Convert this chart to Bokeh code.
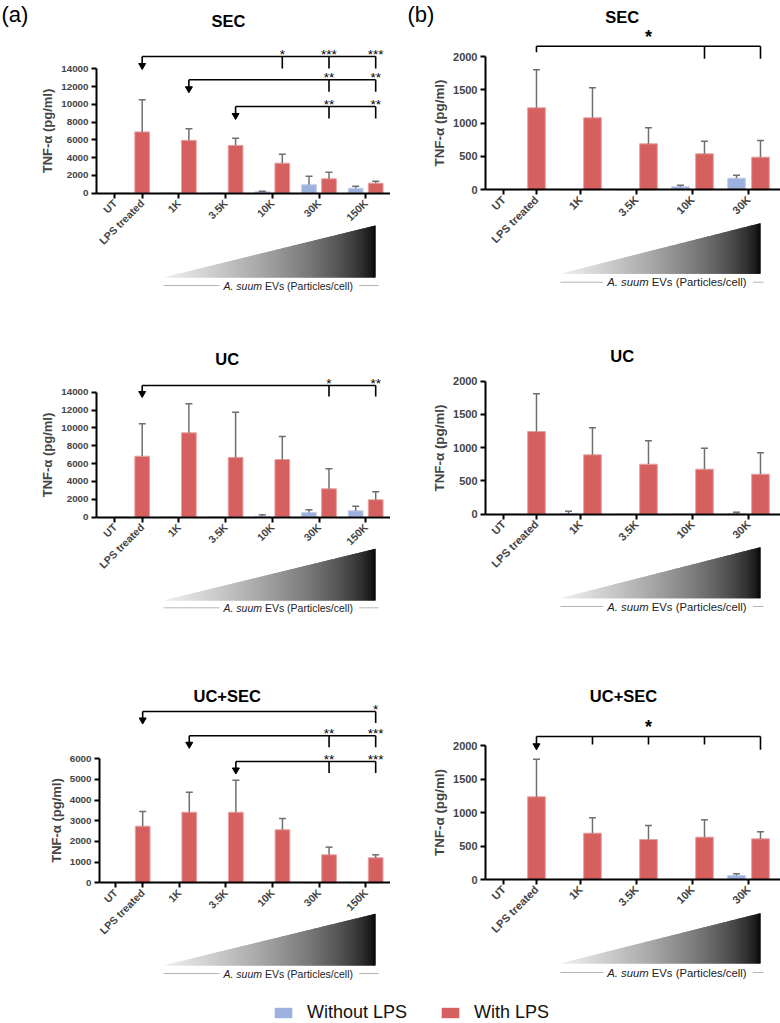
import math
import numpy as np
from bokeh.plotting import figure
from bokeh.layouts import column, row
from bokeh.models import (Range1d, FixedTicker, ColumnDataSource, Whisker, TeeHead,
                          Legend, LegendItem)
from bokeh.core.properties import value
from bokeh.embed import file_html
from bokeh.resources import INLINE

# ------------------------------------------------------------------ data
tick_labels_a = ["UT", "LPS treated", "1K", "3.5K", "10K", "30K", "150K"]
tick_labels_b = ["UT", "LPS treated", "1K", "3.5K", "10K", "30K"]

sec_a_without = [0, 0, 0, 160, 950, 560]
sec_a_without_sd = [0, 0, 0, 70, 960, 230]
sec_a_with = [6900, 5950, 5380, 3380, 1620, 1130]
sec_a_with_sd = [3620, 1300, 810, 1000, 740, 220]

uc_a_without = [0, 0, 0, 100, 530, 720]
uc_a_without_sd = [0, 0, 0, 170, 300, 510]
uc_a_with = [6830, 9450, 6690, 6460, 3180, 1950]
uc_a_with_sd = [3630, 3250, 5070, 2580, 2240, 890]

ucsec_a_without = [0, 0, 0, 0, 0, 0]
ucsec_a_without_sd = [0, 0, 0, 0, 0, 0]
ucsec_a_with = [2740, 3415, 3415, 2565, 1355, 1210]
ucsec_a_with_sd = [710, 970, 1550, 545, 370, 145]

sec_b_without = [0, 0, 0, 45, 174]
sec_b_without_sd = [0, 0, 0, 24, 45]
sec_b_with = [1230, 1080, 690, 540, 490]
sec_b_with_sd = [570, 450, 240, 190, 250]

uc_b_without = [0, 10, 0, 0, 8]
uc_b_without_sd = [0, 35, 0, 0, 22]
uc_b_with = [1243, 893, 752, 677, 601]
uc_b_with_sd = [567, 407, 352, 315, 322]

ucsec_b_without = [0, 0, 0, 0, 60]
ucsec_b_without_sd = [0, 0, 0, 0, 25]
ucsec_b_with = [1234, 691, 597, 632, 607]
ucsec_b_with_sd = [562, 230, 209, 259, 105]

# significance: (reference group, compared groups, stars)
sec_a_sig = [(0, [3, 4, 5], ["*", "***", "***"]),
             (1, [4, 5], ["**", "**"]),
             (2, [4, 5], ["**", "**"])]
uc_a_sig = [(0, [4, 5], ["*", "**"])]
ucsec_a_sig = [(0, [5], ["*"]),
               (1, [4, 5], ["**", "***"]),
               (2, [4, 5], ["**", "***"])]
sec_b_sig = (0, [3, 4], "*")
ucsec_b_sig = (0, [1, 2, 3, 4], "*")

series_names = ["Without LPS", "With LPS"]
y_title = "TNF-α (pg/ml)"
caption_italic = "A. suum"
caption_rest = "EVs (Particles/cell)"

# ------------------------------------------------------------------ style
FONT = "Liberation Sans"
S = 1.0
PW = 390
RED = "#d65f5f"
RED_EDGE = "#e7a0a0"
BLUE = "#9db1de"
BLUE_EDGE = "#c2cfec"
ERR = "#6f6f6f"
OFF = 0.214
BW = 0.315


def txt(p, x, y, text, size, align="center", baseline="middle", style="normal",
        color="black"):
    p.text(x=[x], y=[y], text=[text], text_font=value(FONT),
           text_font_size=f"{size * S:.1f}px", text_align=align,
           text_baseline=baseline, text_font_style=style, text_color=color)


def make_panel(sp, labels, wo, wo_sd, wi, wi_sd, sig=None, sigb=None):
    g0, gs = sp["g0"], sp["gs"]
    kk = sp["ymax"] / (sp["zero"] - sp["top"])

    def fx(px):
        return (px - g0) / gs

    def fy(py):
        return (sp["zero"] - py) * kk

    p = figure(width=PW, height=sp["h"], x_range=Range1d(fx(0), fx(390)),
               y_range=Range1d(fy(sp["h"]), fy(0)), output_backend="svg",
               toolbar_location=None, min_border=0)
    p.outline_line_color = None
    p.xgrid.visible = False
    p.ygrid.visible = False
    p.background_fill_color = "white"
    p.border_fill_color = "white"

    n = len(wi)
    idx = np.arange(n)
    src = ColumnDataSource(dict(xb=idx - OFF, xr=idx + OFF, wo=wo, wi=wi))
    p.vbar(x="xb", top="wo", width=BW, source=src, fill_color=BLUE,
           line_color=BLUE_EDGE, line_width=1)
    p.vbar(x="xr", top="wi", width=BW, source=src, fill_color=RED,
           line_color=RED_EDGE, line_width=1)

    for xs_, v, sd in ((idx - OFF, wo, wo_sd), (idx + OFF, wi, wi_sd)):
        sel = [i for i in range(n) if sd[i] > 0]
        esrc = ColumnDataSource(dict(base=[float(xs_[i]) for i in sel],
                                     lower=[v[i] for i in sel],
                                     upper=[v[i] + sd[i] for i in sel]))
        w = Whisker(source=esrc, base="base", lower="lower", upper="upper",
                    line_color=ERR, line_width=1.5,
                    upper_head=TeeHead(size=7, line_color=ERR, line_width=1.5),
                    lower_head=None, level="glyph")
        p.add_layout(w)

    # axes
    yax = p.yaxis[0]
    yax.fixed_location = fx(sp["axis_x"])
    yax.bounds = (0, sp["ymax"])
    yax.ticker = FixedTicker(ticks=list(range(0, sp["ymax"] + 1, sp["step"])))
    yax.axis_label = y_title
    yax.axis_label_text_font = FONT
    yax.axis_label_text_font_style = "bold"
    yax.axis_label_text_font_size = f"{sp['yt_f'] * S:.1f}px"
    yax.axis_label_standoff = 3
    yax.major_label_text_font = FONT
    yax.major_label_text_font_style = "bold"
    yax.major_label_text_font_size = f"{sp['yl_f'] * S:.1f}px"
    yax.major_label_standoff = 3
    yax.axis_line_width = 2
    yax.major_tick_line_width = 2
    yax.major_tick_out = 5
    yax.major_tick_in = 0
    yax.minor_tick_out = 0
    yax.minor_tick_in = 0

    xticks = [-0.37, OFF] + list(range(1, n))
    xax = p.xaxis[0]
    xax.fixed_location = 0
    xax.bounds = (fx(sp["axis_x"]), fx(390))
    xax.ticker = FixedTicker(ticks=xticks)
    xax.major_label_overrides = {t: lab for t, lab in zip(xticks, labels)}
    xax.major_label_orientation = math.pi / 4
    xax.major_label_text_font = FONT
    xax.major_label_text_font_style = "bold"
    xax.major_label_text_font_size = f"{sp['xl_f'] * S:.1f}px"
    xax.major_label_standoff = 3
    xax.axis_line_width = 2
    xax.major_tick_line_width = 2
    xax.major_tick_out = 5
    xax.major_tick_in = 0
    xax.minor_tick_out = 0
    xax.minor_tick_in = 0

    # titles
    txt(p, fx(sp["title"][0]), fy(sp["title"][1]), sp["name"], 16.5, style="bold")
    if sp.get("letter"):
        txt(p, fx(sp["letter"][0]), fy(sp["letter"][1]), sp["letter"][2], 22,
            align="left")

    # significance brackets (panel a style)
    if sig:
        for j, (ref, comps, stars) in enumerate(sig):
            ly = sp["br"][j]
            drop = sp["drop"]
            xr = ref + OFF
            xs = [c + OFF for c in comps]
            p.segment(x0=[xr], y0=[fy(ly)], x1=[xs[-1]], y1=[fy(ly)],
                      line_color="black", line_width=1.6)
            p.segment(x0=[xr], y0=[fy(ly)], x1=[xr], y1=[fy(ly + drop - 4)],
                      line_color="black", line_width=1.6)
            p.scatter(x=[xr], y=[fy(ly + drop - 3)], marker="inverted_triangle",
                      size=7, fill_color="black", line_color="black")
            p.segment(x0=xs, y0=[fy(ly)] * len(xs), x1=xs, y1=[fy(ly + drop)] * len(xs),
                      line_color="black", line_width=1.6)
            p.text(x=xs, y=[fy(ly - 2)] * len(xs), text=stars, text_font=value(FONT),
                   text_font_size="13.5px", text_align="center",
                   text_baseline="middle")

    # significance bracket (panel b style)
    if sigb:
        ref, comps, star = sigb
        b = sp["brb"]
        ly = b["y"]
        xr = ref + OFF
        xs = [c + OFF for c in comps]
        p.segment(x0=[xr], y0=[fy(ly)], x1=[xs[-1]], y1=[fy(ly)],
                  line_color="black", line_width=1.6)
        if b["arrow"]:
            p.segment(x0=[xr], y0=[fy(ly)], x1=[xr], y1=[fy(ly + b["left"] - 4)],
                      line_color="black", line_width=1.6)
            p.scatter(x=[xr], y=[fy(ly + b["left"] - 3)], marker="inverted_triangle",
                      size=7, fill_color="black", line_color="black")
        else:
            p.segment(x0=[xr], y0=[fy(ly)], x1=[xr], y1=[fy(ly + b["left"])],
                      line_color="black", line_width=1.6)
        mids = xs[:-1]
        if mids:
            p.segment(x0=mids, y0=[fy(ly)] * len(mids), x1=mids,
                      y1=[fy(ly + b["mid"])] * len(mids),
                      line_color="black", line_width=1.6)
        p.segment(x0=[xs[-1]], y0=[fy(ly)], x1=[xs[-1]], y1=[fy(ly + b["end"])],
                  line_color="black", line_width=1.6)
        txt(p, (xr + xs[-1]) / 2, fy(b["star_y"]), star, 18, style="bold")

    # gradient triangle: overlapping slices (drawn left to right) hide seams
    tx0, tx1, tyb, tyt = sp["tri"]
    x0, x1, yb, yt = fx(tx0), fx(tx1), fy(tyb), fy(tyt)
    N = 90
    dx = (x1 - x0) / N
    pxs, pys, cols = [], [], []
    for i in range(N):
        a = x0 + dx * i
        bb = min(x1, a + 2.2 * dx)
        ya = yb + (yt - yb) * (a - x0) / (x1 - x0)
        y2 = yb + (yt - yb) * (bb - x0) / (x1 - x0)
        pxs.append([a, bb, bb, a])
        pys.append([yb, yb, y2, ya])
        t = (i + 0.5) / N
        g = int(round(240 * (1 - t) ** 0.6))
        cols.append(f"#{g:02x}{g:02x}{g:02x}")
    p.patches(pxs, pys, fill_color=cols, line_color=None)

    # caption
    cf = sp["cap_f"]
    cx0 = sp["cap_x0"]
    cy = fy(sp["cap_y"])
    w_it = 3.668 * cf
    w_all = 12.535 * cf
    txt(p, fx(cx0), cy, caption_italic, cf, align="left", style="italic",
        color="#222222")
    txt(p, fx(cx0 + w_it + 0.278 * cf), cy, caption_rest, cf, align="left",
        color="#222222")
    p.segment(x0=[x0, fx(cx0 + w_all + 4)], y0=[cy, cy],
              x1=[fx(cx0 - 4), fx(tx1 + 3)], y1=[cy, cy],
              line_color="#b5b5b5", line_width=1)
    return p


# panel geometry (reference pixels, relative to each panel's top-left)
A1 = dict(name="SEC", h=330, axis_x=96, zero=192.7, top=68.3, ymax=14000,
          step=2000, g0=131.7, gs=46.7, title=(228, 20), letter=(1, 14, "(a)"),
          tri=(163, 375, 277, 225), cap_y=285, cap_x0=223, cap_f=10.5,
          br=[56, 79.3, 106], drop=12, yl_f=9.8, xl_f=10.5, yt_f=13)
A2 = dict(name="UC", h=320, axis_x=96, zero=186.7, top=61.7, ymax=14000,
          step=2000, g0=131.7, gs=46.7, title=(226.7, 28),
          tri=(163, 375, 270, 218.3), cap_y=277.3, cap_x0=223, cap_f=10.5,
          br=[55], drop=11, yl_f=9.8, xl_f=10.5, yt_f=13)
A3 = dict(name="UC+SEC", h=338, axis_x=99, zero=232.3, top=108.3, ymax=6000,
          step=1000, g0=132.2, gs=46.6, title=(226.7, 45),
          tri=(163, 375, 315, 263.3), cap_y=323, cap_x0=223, cap_f=10.5,
          br=[61, 85.3, 111], drop=11.5, yl_f=9.8, xl_f=10.5, yt_f=13)
B1 = dict(name="SEC", h=330, axis_x=95, zero=189.3, top=56, ymax=2000,
          step=500, g0=134, gs=56, title=(231.7, 16.7), letter=(17, 14, "(b)"),
          tri=(170, 370, 273.3, 222.7), cap_y=281.7, cap_x0=216.7, cap_f=11.3,
          brb=dict(y=45.7, arrow=False, left=6, mid=12.6, end=12.6, star_y=36.7),
          yl_f=11, xl_f=11, yt_f=13.4)
B2 = dict(name="UC", h=320, axis_x=95, zero=183.7, top=50.7, ymax=2000,
          step=500, g0=134, gs=56, title=(231.7, 25),
          tri=(170, 370, 267.7, 216.7), cap_y=276, cap_x0=216.7, cap_f=11.3,
          yl_f=11, xl_f=11, yt_f=13.4)
B3 = dict(name="UC+SEC", h=338, axis_x=95, zero=229, top=95, ymax=2000,
          step=500, g0=134, gs=56, title=(233, 45),
          tri=(170, 370, 313, 262.7), cap_y=322, cap_x0=216.7, cap_f=11.3,
          brb=dict(y=86, arrow=True, left=12.3, mid=8, end=13.3, star_y=76.7),
          yl_f=11, xl_f=11, yt_f=13.4)

pa1 = make_panel(A1, tick_labels_a, sec_a_without, sec_a_without_sd, sec_a_with,
                 sec_a_with_sd, sig=sec_a_sig)
pb1 = make_panel(B1, tick_labels_b, sec_b_without, sec_b_without_sd, sec_b_with,
                 sec_b_with_sd, sigb=sec_b_sig)
pa2 = make_panel(A2, tick_labels_a, uc_a_without, uc_a_without_sd, uc_a_with,
                 uc_a_with_sd, sig=uc_a_sig)
pb2 = make_panel(B2, tick_labels_b, uc_b_without, uc_b_without_sd, uc_b_with,
                 uc_b_with_sd)
pa3 = make_panel(A3, tick_labels_a, ucsec_a_without, ucsec_a_without_sd, ucsec_a_with,
                 ucsec_a_with_sd, sig=ucsec_a_sig)
pb3 = make_panel(B3, tick_labels_b, ucsec_b_without, ucsec_b_without_sd, ucsec_b_with,
                 ucsec_b_with_sd, sigb=ucsec_b_sig)

# legend strip (swatches from zero-height renderers that draw nothing)
lg = figure(width=2 * PW, height=35, x_range=Range1d(0, 1), y_range=Range1d(0, 1),
            output_backend="svg", toolbar_location=None, min_border=0,
            x_axis_type=None, y_axis_type=None)
lg.outline_line_color = None
lg.xgrid.visible = False
lg.ygrid.visible = False
blank = ColumnDataSource(dict(x=[0.5], top=[0.0], bottom=[0.0]))
r_wo = lg.vbar(x="x", top="top", bottom="bottom", width=0.01, source=blank,
               fill_color=BLUE, line_color=None)
r_wi = lg.vbar(x="x", top="top", bottom="bottom", width=0.01, source=blank,
               fill_color=RED, line_color=None)
legend = Legend(items=[LegendItem(label=series_names[0], renderers=[r_wo]),
                       LegendItem(label=series_names[1], renderers=[r_wi])],
                orientation="horizontal", location=(272, 0),
                glyph_width=22, glyph_height=13,
                label_standoff=13, spacing=32, padding=0, margin=0,
                border_line_color=None, background_fill_alpha=0,
                label_text_font=FONT, label_text_font_size="18px",
                label_text_color="#111111")
lg.add_layout(legend, "center")

layout = column(row(pa1, pb1), row(pa2, pb2), row(pa3, pb3), lg)

open("out.html", "w").write(file_html(layout, INLINE))
